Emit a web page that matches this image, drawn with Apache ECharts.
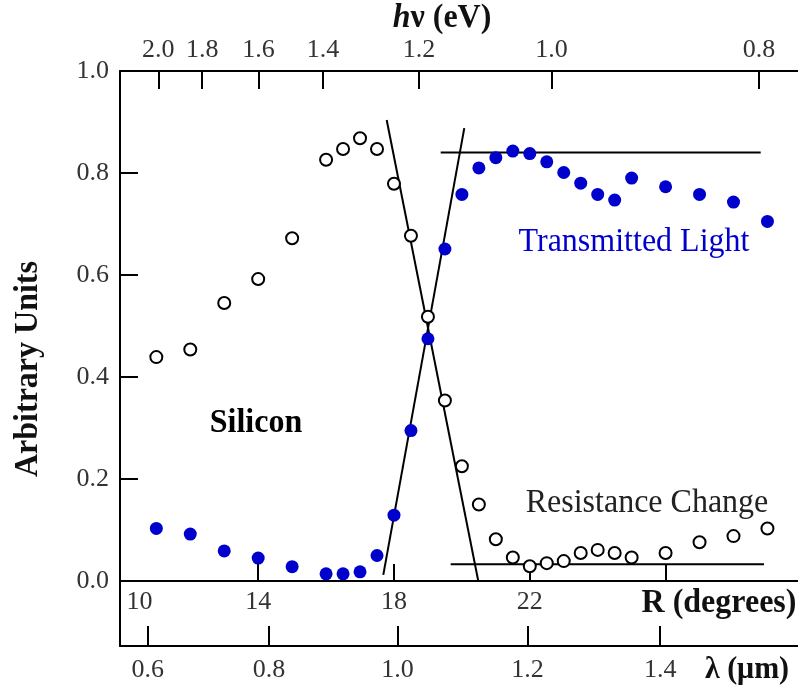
<!DOCTYPE html>
<html>
<head>
<meta charset="utf-8">
<script src="https://cdn.jsdelivr.net/npm/echarts@6/dist/echarts.min.js"></script>
<style>
  html, body { margin: 0; padding: 0; background: #fff; }
  #chart { width: 798px; height: 693px; }
</style>
</head>
<body>
<div id="chart"></div>
<script>
// rotation angle R (degrees) of each measurement
let angle = [11, 12, 13, 14, 15, 16, 16.5, 17, 17.5, 18, 18.5, 19, 19.5, 20, 20.5, 21, 21.5, 22, 22.5, 23, 23.5, 24, 24.5, 25, 26, 27, 28, 29]
// open circles - resistance change of silicon
let resistance = [0.439, 0.454, 0.545, 0.592, 0.672, 0.826, 0.847, 0.868, 0.847, 0.779, 0.677, 0.518, 0.354, 0.225, 0.150, 0.082, 0.046, 0.029, 0.035, 0.039, 0.055, 0.061, 0.055, 0.046, 0.055, 0.076, 0.088, 0.103]
// filled blue dots - transmitted light
let transmitted = [0.103, 0.092, 0.059, 0.045, 0.028, 0.014, 0.014, 0.018, 0.050, 0.129, 0.295, 0.475, 0.651, 0.758, 0.810, 0.830, 0.843, 0.838, 0.822, 0.801, 0.780, 0.758, 0.747, 0.790, 0.773, 0.758, 0.743, 0.705]

// straight guide lines [R, value]
let fitDown = [[17.785, 0.904], [20.483, 0]]
let fitUp = [[17.685, 0.012], [20.071, 0.888]]
let plateauTop = [[19.376, 0.840], [28.801, 0.840]]
let baseBottom = [[19.670, 0.033], [28.898, 0.033]]

// axis ticks
let rTicks = [14, 18, 22, 26]
let rLabels = [10, 14, 18, 22]
let hvLabels = ['2.0', '1.8', '1.6', '1.4', '1.2', '1.0', '0.8']
let hvTickR = [11.06, 12.35, 14.01, 15.91, 18.74, 22.64, 28.75]
let lambdaLabels = ['0.6', '0.8', '1.0', '1.2', '1.4']
let lambdaTickR = [10.75, 14.32, 18.10, 21.93, 25.84]

let rMin = 9.93
let rMax = 29.9

var serif = "'Liberation Serif', 'Times New Roman', serif"
var lbl = {fontFamily: serif, fontSize: 26, color: '#333'}

function pick(pos, labels) {
    return function (v) {
        let i = pos.findIndex(p => Math.abs(p - v) < 1e-6)
        return i >= 0 ? labels[i] : ''
    }
}

var line = {show: true, lineStyle: {color: '#000', width: 2}}
var tick = (len) => ({show: true, inside: true, length: len, lineStyle: {color: '#000', width: 2}})

function guide(data) {
    return {
        type: 'line',
        data: data,
        showSymbol: false,
        symbol: 'none',
        silent: true,
        z: 1,
        lineStyle: {color: '#000', width: 2}
    }
}

function label(x, y, text, font, fill) {
    return {type: 'text', x: x, y: y, scaleY: 1.08, style: {
        text: text, font: font, fill: fill, align: 'center', verticalAlign: 'middle'
    }}
}

var chart = echarts.init(document.getElementById('chart'))
chart.setOption({
    animation: false,
    backgroundColor: '#fff',
    grid: [
        {left: 120, right: 0, top: 71, height: 510},
        {left: 120, right: 0, top: 581, height: 65}
    ],
    xAxis: [
        {
            type: 'value', gridIndex: 0, position: 'bottom', min: rMin, max: rMax,
            axisLine: line, splitLine: {show: false},
            axisTick: Object.assign(tick(17), {customValues: rTicks}),
            axisLabel: Object.assign({}, lbl, {
                margin: 8,
                customValues: rLabels,
                formatter: v => v === 10 ? '{a|10}' : String(v),
                rich: {a: {fontFamily: serif, fontSize: 26, color: '#333', padding: [0, 0, 0, 34]}}
            })
        },
        {
            type: 'value', gridIndex: 0, position: 'top', min: rMin, max: rMax,
            axisLine: line, splitLine: {show: false},
            axisTick: Object.assign(tick(18), {customValues: hvTickR}),
            axisLabel: Object.assign({}, lbl, {margin: 8, customValues: hvTickR, formatter: pick(hvTickR, hvLabels)})
        },
        {
            type: 'value', gridIndex: 1, position: 'bottom', min: rMin, max: rMax,
            axisLine: line, splitLine: {show: false},
            axisTick: Object.assign(tick(20), {customValues: lambdaTickR}),
            axisLabel: Object.assign({}, lbl, {margin: 11, customValues: lambdaTickR, formatter: pick(lambdaTickR, lambdaLabels)})
        }
    ],
    yAxis: [
        {
            type: 'value', gridIndex: 0, min: 0, max: 1, interval: 0.2,
            axisLine: line, splitLine: {show: false},
            axisTick: tick(18),
            axisLabel: Object.assign({}, lbl, {margin: 11, formatter: v => v.toFixed(1)})
        },
        {
            type: 'value', gridIndex: 1, min: 0, max: 1,
            axisLine: line, splitLine: {show: false},
            axisTick: {show: false}, axisLabel: {show: false}
        }
    ],
    series: [
        guide(fitDown),
        guide(fitUp),
        guide(plateauTop),
        guide(baseBottom),
        {
            name: 'Resistance Change',
            type: 'scatter',
            data: angle.map((r, i) => [r, resistance[i]]),
            symbol: 'circle',
            symbolSize: 12,
            z: 3,
            itemStyle: {color: '#fff', borderColor: '#000', borderWidth: 2, opacity: 1}
        },
        {
            name: 'Transmitted Light',
            type: 'scatter',
            data: angle.map((r, i) => [r, transmitted[i]]),
            symbol: 'circle',
            symbolSize: 13,
            z: 4,
            itemStyle: {color: '#0000cc', opacity: 1}
        }
    ],
    graphic: [
        {type: 'text', x: 442, y: 18, scaleY: 1.08, style: {
            text: '{i|h}{b|ν (eV)}', align: 'center', verticalAlign: 'middle',
            rich: {
                i: {fontFamily: serif, fontSize: 32, fontWeight: 'bold', fontStyle: 'italic', fill: '#111'},
                b: {fontFamily: serif, fontSize: 32, fontWeight: 'bold', fill: '#111'}
            }
        }},
        {type: 'text', x: 28, y: 369, rotation: Math.PI / 2, scaleY: 1.08, style: {
            text: 'Arbitrary Units', font: 'bold 32px ' + serif, fill: '#111', align: 'center', verticalAlign: 'middle'
        }},
        label(719, 603, 'R (degrees)', 'bold 32px ' + serif, '#111'),
        label(747, 670, 'λ (μm)', 'bold 30px ' + serif, '#111'),
        label(256, 423, 'Silicon', 'bold 32px ' + serif, '#000'),
        label(634, 242, 'Transmitted Light', '32px ' + serif, '#0000cc'),
        label(647, 503, 'Resistance Change', '32px ' + serif, '#222')
    ]
})
</script>
</body>
</html>
